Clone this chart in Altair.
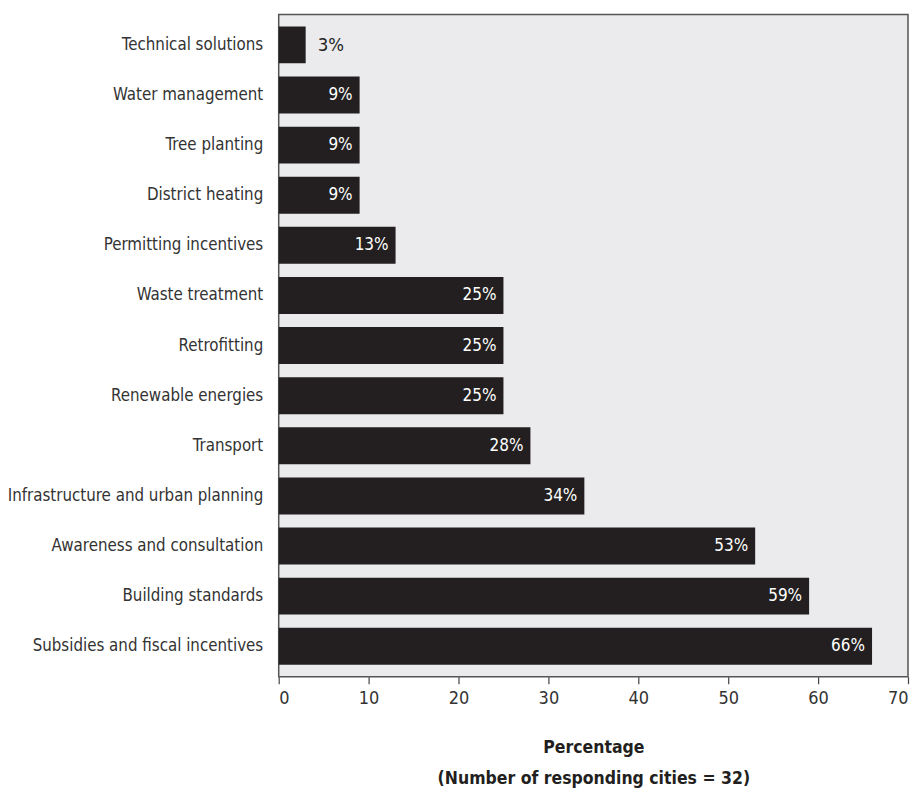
import altair as alt
import pandas as pd

categories = [
    "Technical solutions", "Water management", "Tree planting", "District heating",
    "Permitting incentives", "Waste treatment", "Retrofitting", "Renewable energies",
    "Transport", "Infrastructure and urban planning", "Awareness and consultation",
    "Building standards", "Subsidies and fiscal incentives",
]
values = [3, 9, 9, 9, 13, 25, 25, 25, 28, 34, 53, 59, 66]

df = pd.DataFrame({"category": categories, "value": values})
df["label"] = df["value"].astype(str) + "%"

FONT = "DejaVu Sans Condensed, Liberation Sans, sans-serif"
DARK = "#231f20"

base = alt.Chart(df).encode(
    y=alt.Y("category:N", sort=categories, title=None,
            scale=alt.Scale(paddingInner=0.2625, paddingOuter=0.239),
            axis=alt.Axis(labelFont=FONT, labelFontSize=16.8, labelColor="#333333",
                          labelPadding=16, ticks=False, domain=False, labelLimit=400)),
)

bars = base.mark_bar(color=DARK).encode(
    x=alt.X("value:Q", scale=alt.Scale(domain=[0, 70], nice=False),
            title=["Percentage", "(Number of responding cities = 32)"],
            axis=alt.Axis(values=[0, 10, 20, 30, 40, 50, 60, 70], grid=False, domain=False,
                          tickSize=7, tickColor="#444444", tickWidth=1.2,
                          labelFont=FONT, labelFontSize=18, labelColor="#333333", labelPadding=6,
                          titleFont=FONT, titleFontSize=17.5, titleFontWeight="bold",
                          titleColor=DARK, titlePadding=31, titleLineHeight=31)),
)

inside = base.transform_filter("datum.value >= 5").mark_text(
    align="right", dx=-7, color="white", font=FONT, fontSize=17
).encode(x="value:Q", text="label:N")

outside = base.transform_filter("datum.value < 5").mark_text(
    align="left", dx=12, color=DARK, font=FONT, fontSize=18.5
).encode(x="value:Q", text="label:N")

chart = (bars + inside + outside).properties(
    width=630, height=663,
    autosize=alt.AutoSizeParams(type="none"),
    padding={"left": 271, "top": 6, "right": 4, "bottom": 115},
).configure_view(
    fill="#ebebed", stroke="#555555", strokeWidth=1.5
)

chart.save("out.html", embed_options={"renderer": "svg", "actions": False})
